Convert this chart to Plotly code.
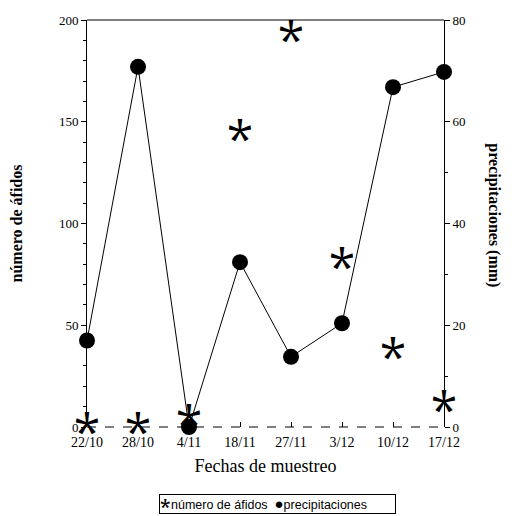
import plotly.graph_objects as go

fechas = ["22/10", "28/10", "4/11", "18/11", "27/11", "3/12", "10/12", "17/12"]
afidos = [0, 0, 4, 144, 193, 81, 37, 11]
precipitaciones = [17, 70.8, 0, 32.4, 13.8, 20.4, 66.8, 69.8]

SERIF = "Liberation Serif"
fig = go.Figure()
fig.add_trace(go.Scatter(x=fechas, y=precipitaciones, yaxis="y2", mode="lines+markers",
                         line=dict(color="black", width=1), marker=dict(color="black", size=16),
                         cliponaxis=False, showlegend=False, name="precipitaciones"))
fig.add_trace(go.Scatter(x=fechas, y=afidos, mode="text", text=["🞰"] * len(fechas),
                         textposition="middle center",
                         textfont=dict(family="DejaVu Sans", size=37, color="black"),
                         cliponaxis=False, showlegend=False, name="número de áfidos"))

axis_common = dict(showline=True, linecolor="black", linewidth=1, ticks="outside", ticklen=5,
                   tickcolor="black", showgrid=False, zeroline=False,
                   tickfont=dict(family=SERIF, size=13, color="black"))
NB = "\u00a0"
fig.update_layout(
    width=517, height=516, margin=dict(l=87, r=73, t=20, b=89),
    paper_bgcolor="white", plot_bgcolor="white", showlegend=False,
    xaxis=dict(type="category", range=[0, 7], showline=False, ticks="inside", ticklen=5,
               tickcolor="black", showgrid=False, zeroline=False, ticklabelstandoff=5,
               tickfont=dict(family=SERIF, size=14, color="black"),
               title=dict(text="Fechas de muestreo", font=dict(family=SERIF, size=18, color="black"), standoff=10)),
    yaxis=dict(range=[0, 200], dtick=50, minor=dict(dtick=10, ticks="outside", ticklen=3, tickcolor="black"),
               title=dict(text="<b>número de áfidos</b>", font=dict(family=SERIF, size=16, color="black"), standoff=32),
               **axis_common),
    yaxis2=dict(range=[0, 80], dtick=20, overlaying="y", side="right",
                minor=dict(dtick=10, ticks="outside", ticklen=3, tickcolor="black"), **axis_common),
    shapes=[
        dict(type="line", xref="paper", yref="paper", x0=0, x1=1, y0=1, y1=1, line=dict(color="black", width=1)),
        dict(type="line", xref="paper", yref="paper", x0=0, x1=1, y0=0, y1=0, line=dict(color="black", width=1, dash="dash")),
    ],
    annotations=[
        dict(xref="paper", yref="paper", x=1.171, y=0.52, textangle=90, showarrow=False,
             text="<b>precipitaciones (mm)</b>", font=dict(family=SERIF, size=16, color="black")),
        dict(xref="paper", yref="paper", x=0.535, y=-0.19, showarrow=False, yanchor="middle",
             text='<span style="font-family:DejaVu Sans;font-size:15px">🞱</span>número de áfidos' + NB * 2 +
                  '<span style="font-size:15px">●</span>precipitaciones' + NB * 8,
             font=dict(family="Liberation Sans", size=12.5, color="black"),
             bordercolor="black", borderwidth=1, borderpad=0),
    ],
)
fig.write_html("out.html")
